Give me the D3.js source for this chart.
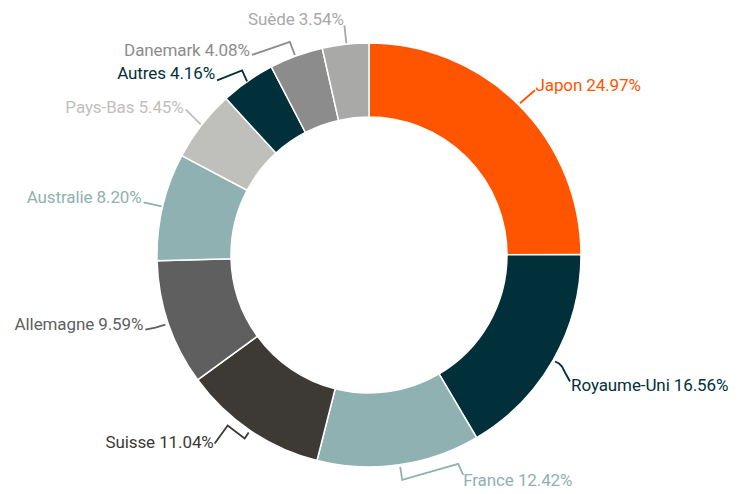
<!DOCTYPE html>
<html>
<head>
<meta charset="utf-8">
<script src="https://cdn.jsdelivr.net/npm/d3@7"></script>
<style>
  html, body { margin: 0; padding: 0; background: #ffffff; }
  svg { display: block; }
  text { font-family: Roboto, "Noto Sans", sans-serif; font-size: 17px; letter-spacing: -0.1px; }
</style>
</head>
<body>
<svg id="chart" width="740" height="494"></svg>
<script>
// ---- data ----
const categories = ["Japon", "Royaume-Uni", "France", "Suisse", "Allemagne", "Australie", "Pays-Bas", "Autres", "Danemark", "Suède"];
const values = [24.97, 16.56, 12.42, 11.04, 9.59, 8.20, 5.45, 4.16, 4.08, 3.54];
const valueLabels = ["24.97%", "16.56%", "12.42%", "11.04%", "9.59%", "8.20%", "5.45%", "4.16%", "4.08%", "3.54%"];
const colors = ["#ff5500", "#02303a", "#8fb1b1", "#3d3935", "#5f5f5f", "#8fb1b1", "#bfbfbc", "#02303a", "#8c8c8c", "#a9a9a7"];

// ---- label layout (leader polylines relative to slice anchor on the outer edge) ----
const leaderPaths = [
  [[0.5, -1], [15.5, -14]],
  [[1, 1], [5, 3], [8, 6], [11, 12], [16, 21]],
  [[1, 1], [3, 14], [59, -2], [64, 9]],
  [[-1, 1], [-5, 7], [-22, -6], [-35, 12]],
  [[-2, 1], [-7, 2.5], [-12, 4], [-22, 6]],
  [[0, 0], [-18, -4]],
  [[0, 0], [-15, -15]],
  [[0, 1], [-5, -10], [-30, 0]],
  [[-1, 0], [-6, -13], [-44, 0]],
  [[1, 0], [-1, -18]]
];
const labelOffsets = [[16, -13], [17, 30.5], [64, 20], [-36, 16.6], [-24, 6.4], [-20, -3.7], [-17, -11.5], [-32, -1], [-46, 1], [-1.5, -18.3]];
const labelAnchors = ["start", "start", "start", "end", "end", "end", "end", "end", "end", "end"];

// ---- geometry ----
const cx = 369, cy = 255, outerR = 212, innerR = 138;

const svg = d3.select("#chart");
const g = svg.append("g").attr("transform", `translate(${cx},${cy})`);

const pie = d3.pie().sort(null).value(d => d.value);
const arcs = pie(categories.map((c, i) => ({ name: c, value: values[i], i })));

const arc = d3.arc().innerRadius(innerR).outerRadius(outerR);
const anchorArc = d3.arc().innerRadius(outerR + 1).outerRadius(outerR + 1);

g.selectAll("path.slice")
  .data(arcs)
  .enter().append("path")
  .attr("class", "slice")
  .attr("d", arc)
  .attr("fill", d => colors[d.data.i])
  .attr("stroke", "#ffffff")
  .attr("stroke-width", 1.5)
  .attr("stroke-linejoin", "round");

const line = d3.line().curve(d3.curveLinear);

arcs.forEach(d => {
  const i = d.data.i;
  const [ax, ay] = anchorArc.centroid(d);
  const pts = leaderPaths[i].map(p => [ax + p[0], ay + p[1]]);
  g.append("path")
    .attr("d", line(pts))
    .attr("fill", "none")
    .attr("stroke", colors[i])
    .attr("stroke-width", 1.8)
    .attr("stroke-linejoin", "miter");
  g.append("text")
    .attr("x", ax + labelOffsets[i][0])
    .attr("y", ay + labelOffsets[i][1])
    .attr("text-anchor", labelAnchors[i])
    .attr("fill", colors[i])
    .text(categories[i] + " " + valueLabels[i]);
});
</script>
</body>
</html>
